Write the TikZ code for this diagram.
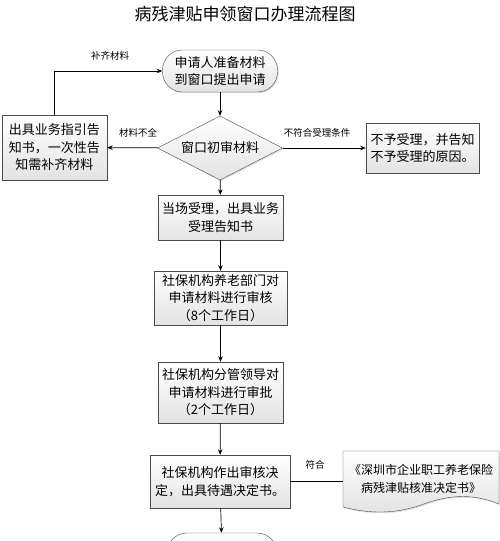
\documentclass[tikz,border=0pt]{standalone}
\usepackage{fontspec}
\setmainfont{Noto Sans CJK SC}
\usetikzlibrary{arrows.meta,positioning,shapes.geometric,shadows}

\begin{document}
\begin{tikzpicture}[x=1pt,y=-1pt,>={Stealth[length=5.5pt,width=4.5pt]},
  box/.style={draw=gray!60!black,top color=white,bottom color=gray!22,
    align=center,inner sep=0pt,font=\fontsize{13}{17.5}\selectfont,
    drop shadow={opacity=0.25,shadow xshift=1.2pt,shadow yshift=-1.2pt}},
  lbl/.style={font=\fontsize{9.5}{11}\selectfont},
  flow/.style={->,black,line width=0.7pt}]
  \useasboundingbox (0,0) rectangle (500,541);
  \clip (0,0) rectangle (500,541);
  % title
  \node[font=\fontsize{17}{20}\selectfont] (title) at (245,14) {病残津贴申领窗口办理流程图};
  % main column
  \node[box,rounded corners=20pt,minimum width=115pt,minimum height=42pt] (apply) at (220,71) {申请人准备材料\\到窗口提出申请};
  \node[box,diamond,aspect=2,minimum width=125pt,minimum height=64pt] (check) at (220,148) {窗口初审材料};
  \node[box,minimum width=125pt,minimum height=45pt] (accept) at (220.5,217.5) {当场受理，出具业务\\受理告知书};
  \node[box,minimum width=133pt,minimum height=54pt] (review) at (220.5,298) {社保机构养老部门对\\申请材料进行审核\\（8个工作日）};
  \node[box,minimum width=125pt,minimum height=61pt] (approve) at (220.5,392.5) {社保机构分管领导对\\申请材料进行审批\\（2个工作日）};
  \node[box,minimum width=140pt,minimum height=53pt] (decide) at (220,481.5) {社保机构作出审核决\\定，出具待遇决定书。};
  \node[box,rounded corners=20pt,minimum width=110pt,minimum height=42pt] (finish) at (222,554) {};
  % side boxes
  \node[box,minimum width=105pt,minimum height=65pt] (guide) at (54.5,147.5) {出具业务指引告\\知书，一次性告\\知需补齐材料};
  \node[box,minimum width=113pt,minimum height=50pt] (reject) at (422.5,148) {不予受理，并告知\\不予受理的原因。};
  % document
  \draw[draw=gray!60!black,top color=white,bottom color=gray!22,
    drop shadow={opacity=0.25,shadow xshift=1.2pt,shadow yshift=-1.2pt}]
    (343,451) -- (499,451) -- (499,504)
    .. controls (470,492) and (445,496) .. (421,505)
    .. controls (395,514) and (370,514) .. (343,507) -- cycle;
  \node[align=center,font=\fontsize{12}{17.5}\selectfont,minimum width=156pt,inner sep=0pt] (letter) at (421,479) {《深圳市企业职工养老保险\\病残津贴核准决定书》};
  % arrows
  \draw[flow] (apply) -- (check);
  \draw[flow] (check) -- (guide);
  \draw[flow] (check) -- (reject);
  \draw[flow] (guide.north) |- (apply.west);
  \draw[flow] (check) -- (accept);
  \draw[flow] (accept) -- (review);
  \draw[flow] (review) -- (approve);
  \draw[flow] (approve) -- (decide);
  \draw[flow] (decide) -- (finish);
  \draw[black,line width=0.7pt] (decide.east) -- (decide.east -| letter.west);
  % labels
  \node[lbl] (refill) at (110,56) {补齐材料};
  \node[lbl] (lack) at (138,133) {材料不全};
  \node[lbl] (unfit) at (317,133) {不符合受理条件};
  \node[lbl] (fit) at (315,465) {符合};
\end{tikzpicture}
\end{document}
